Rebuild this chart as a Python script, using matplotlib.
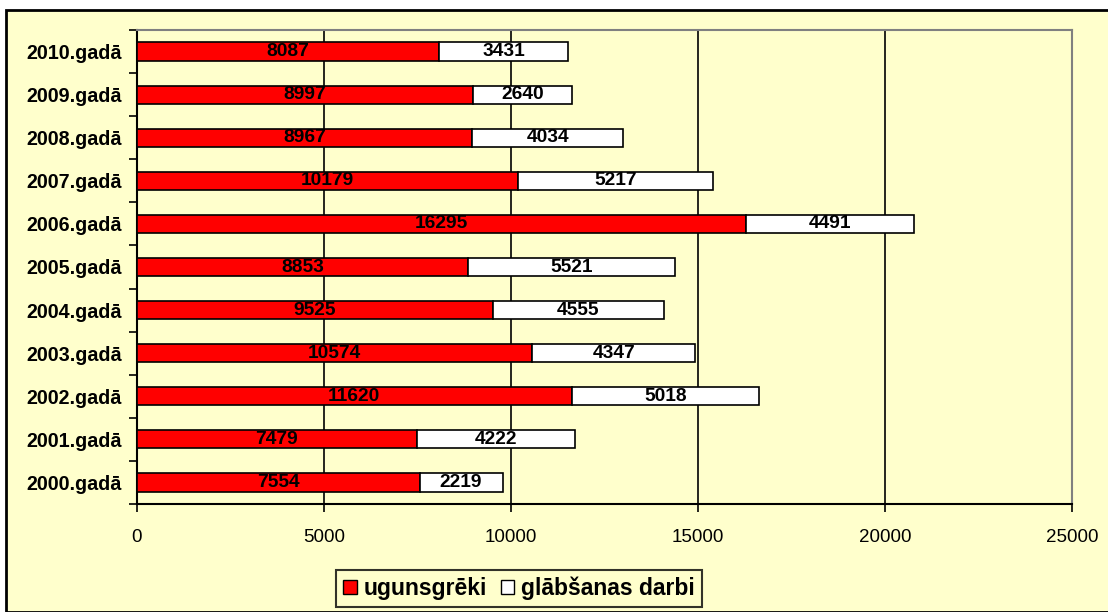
import matplotlib
matplotlib.use("Agg")
import matplotlib.pyplot as plt
from matplotlib.patches import Rectangle, Patch
import numpy as np

years = ["2000.gadā", "2001.gadā", "2002.gadā", "2003.gadā", "2004.gadā", "2005.gadā",
         "2006.gadā", "2007.gadā", "2008.gadā", "2009.gadā", "2010.gadā"]
fires = [7554, 7479, 11620, 10574, 9525, 8853, 16295, 10179, 8967, 8997, 8087]
rescue = [2219, 4222, 5018, 4347, 4555, 5521, 4491, 5217, 4034, 2640, 3431]
xticks = [0, 5000, 10000, 15000, 20000, 25000]
series_names = ["ugunsgrēki", "glābšanas darbi"]

plt.rcParams['font.family'] = ['Liberation Sans', 'DejaVu Sans']

W, H = 1108, 612
bg = "#FFFFCC"
fig = plt.figure(figsize=(W / 100, H / 100), dpi=100)
fig.patch.set_facecolor("white")
# outer chart frame
fig.add_artist(Rectangle((6 / W, 0), 1.2, 1 - 10 / H, transform=fig.transFigure,
                         facecolor=bg, edgecolor="black", linewidth=2, zorder=-10))

ax = fig.add_axes([137 / W, 1 - 504 / H, (1072 - 137) / W, (504 - 30) / H])
ax.set_facecolor(bg)

y = np.arange(len(years))
h = 0.42
ax.barh(y, fires, height=h, color="#FF0000", edgecolor="black", linewidth=1.2, zorder=3,
        label=series_names[0])
ax.barh(y, rescue, left=fires, height=h, color="white", edgecolor="black", linewidth=1.2,
        zorder=3, label=series_names[1])

for i in range(len(years)):
    ax.text(fires[i] / 2, y[i], str(fires[i]), ha="center", va="center",
            fontsize=13.8, fontweight="bold", zorder=4)
    ax.text(fires[i] + rescue[i] / 2, y[i], str(rescue[i]), ha="center", va="center",
            fontsize=13.8, fontweight="bold", zorder=4)

ax.set_xlim(0, 25000)
ax.set_ylim(-0.5, len(years) - 0.5)
ax.set_xticks(xticks)
ax.set_xticklabels([str(v) for v in xticks], fontsize=13.5)
ax.set_yticks(y)
ax.set_yticklabels(years, fontsize=14.2, fontweight="bold")
ax.tick_params(axis="y", length=0, pad=11)
ax.set_yticks(np.arange(-0.5, len(years), 1), minor=True)
ax.tick_params(axis="y", which="minor", length=6, width=1.2, direction="out")
ax.tick_params(axis="x", length=6, width=1.2, direction="out", pad=12)

ax.grid(axis="x", color="black", linewidth=1.2, zorder=0)
ax.set_axisbelow(True)
for s in ["left", "bottom"]:
    ax.spines[s].set_linewidth(1.5)
    ax.spines[s].set_color("black")
for s in ["top", "right"]:
    ax.spines[s].set_color("#808080")
    ax.spines[s].set_linewidth(1.5)

handles = [Patch(facecolor="#FF0000", edgecolor="black", label=series_names[0]),
           Patch(facecolor="white", edgecolor="black", label=series_names[1])]
leg = fig.legend(handles=handles, loc="center", bbox_to_anchor=(519 / W, 1 - 588.5 / H),
                 ncol=2, frameon=True, fancybox=False, edgecolor="black",
                 prop={"size": 16.5, "weight": "bold"}, handlelength=0.6, handleheight=0.6,
                 handletextpad=0.3, columnspacing=0.6, borderpad=0.3)
leg.get_frame().set_facecolor(bg)
leg.get_frame().set_linewidth(1.5)

fig.savefig("out.png", dpi=100, facecolor=fig.get_facecolor())
